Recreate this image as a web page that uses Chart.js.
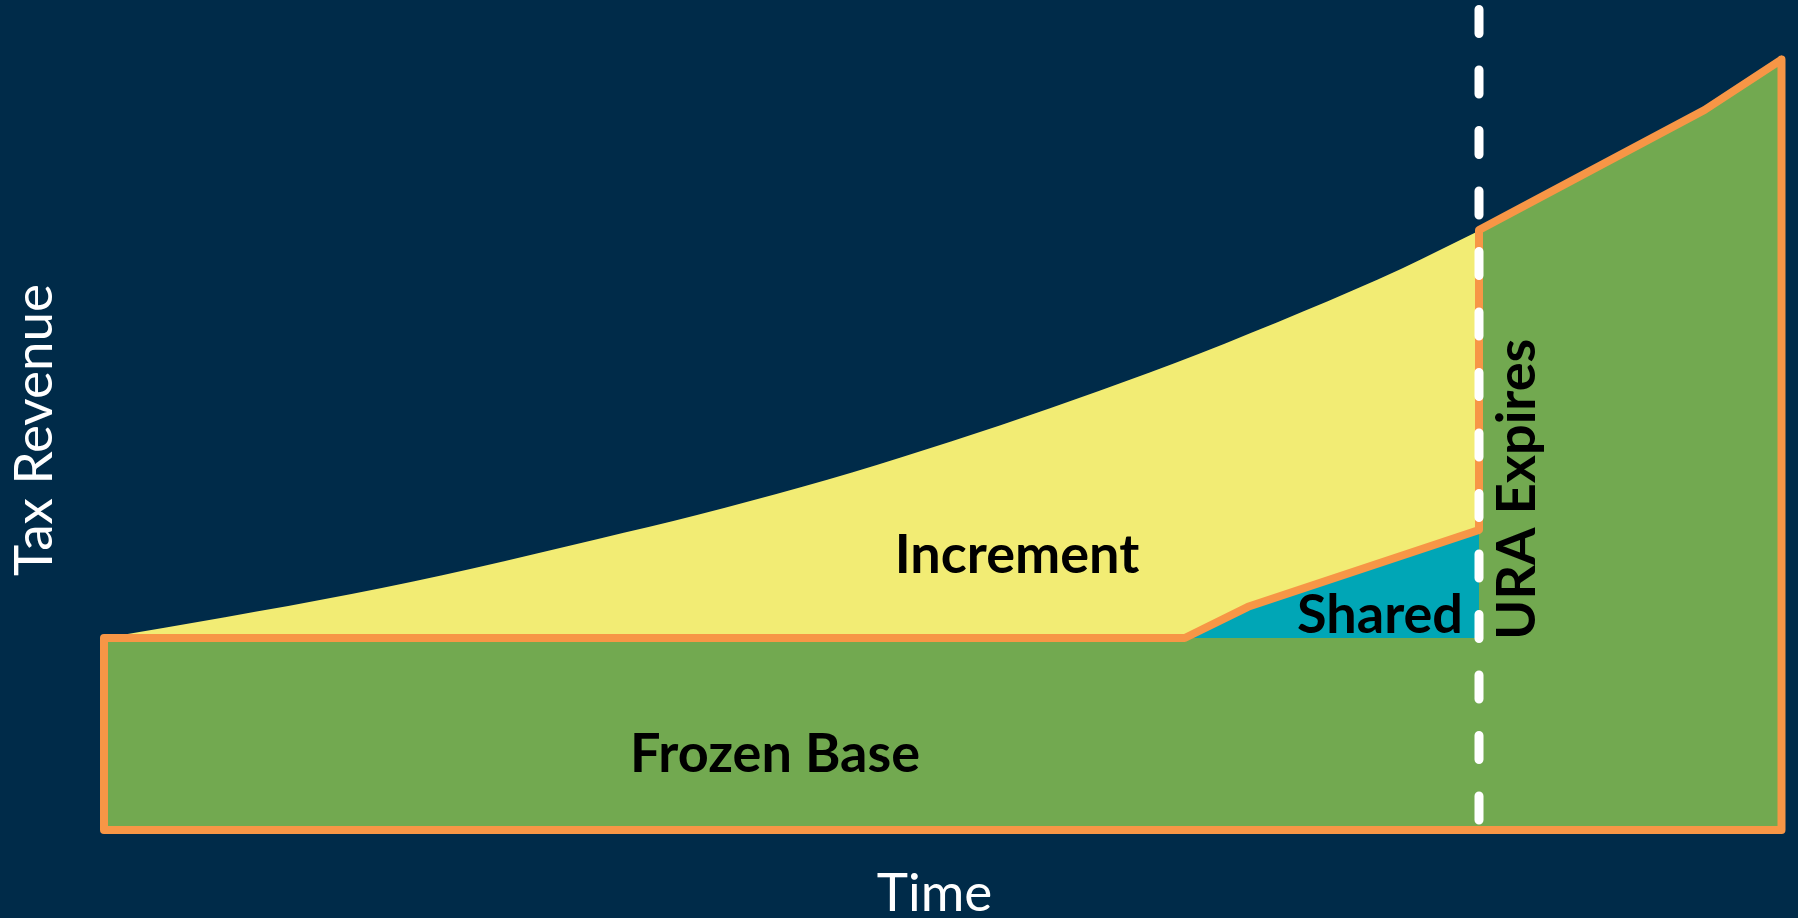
<!DOCTYPE html>
<html>
<head>
<meta charset="utf-8">
<script src="https://cdn.jsdelivr.net/npm/chart.js@4/dist/chart.umd.min.js"></script>
<style>
  html, body { margin: 0; padding: 0; background: #002b49; }
  #wrap { width: 1798px; height: 918px; }
</style>
</head>
<body>
<div id="wrap"><canvas id="tifChart"></canvas></div>
<script>
// time in years, revenue in arbitrary units
const incrementYears = [0, 2.2, 4.5, 6.7, 9, 10.8, 12.7, 14.5, 16.3, 18.1, 19.9, 21.8, 23.6, 25];
const incrementTop   = [24.0, 26.6, 29.5, 32.7, 36.4, 39.4, 42.9, 46.6, 50.6, 54.9, 59.5, 64.8, 70.2, 74.9];

const baseYears = [0, 25];
const frozenBase = 24.0;

const sharedYears = [19.65, 20.8, 25];
const sharedTop   = [24.0, 27.9, 37.5];

const afterYears = [25, 29.1, 30.5];
const afterTop   = [75.0, 90.0, 96.3];

const expiryYear = 25;

const yellow = '#f2ec74';
const green = '#72a950';
const teal = '#00a6b6';
const orange = '#f79646';

// helpers to turn the arrays into {x,y} points
const pts = (xs, ys) => xs.map((x, i) => ({x: x, y: ys[i]}));

const incrementPts = pts(incrementYears, incrementTop);
const sharedPts = pts(sharedYears, sharedTop);
const greenPts = baseYears.map(x => ({x: x, y: frozenBase})).concat(pts(afterYears, afterTop));
const lastYear = afterYears[afterYears.length - 1];

// outline of what the taxing districts get: base + shared, then everything after expiry
const outlinePts = [{x: baseYears[0], y: 0}, {x: baseYears[0], y: frozenBase}]
  .concat(sharedPts)
  .concat(pts(afterYears, afterTop))
  .concat([{x: lastYear, y: 0}, {x: baseYears[0], y: 0}]);

const regionLabels = [
  {text: 'Increment', x: 16.6, y: 32.1},
  {text: 'Frozen Base', x: 12.2, y: 7.25},
  {text: 'Shared', x: 23.2, y: 24.6},
  {text: 'URA Expires', x: 26.02, y: 42.6, rotate: true}
];

const labelPlugin = {
  id: 'regionLabels',
  afterDatasetsDraw(chart) {
    const ctx = chart.ctx;
    const xs = chart.scales.x, ys = chart.scales.y;
    ctx.save();
    ctx.fillStyle = '#000';
    ctx.font = 'bold 54px Lato';
    ctx.textAlign = 'center';
    ctx.textBaseline = 'alphabetic';
    regionLabels.forEach(l => {
      ctx.save();
      ctx.translate(xs.getPixelForValue(l.x), ys.getPixelForValue(l.y));
      if (l.rotate) ctx.rotate(-Math.PI / 2);
      ctx.fillText(l.text, 0, 0);
      ctx.restore();
    });
    ctx.restore();
  }
};

function draw() {
  new Chart(document.getElementById('tifChart'), {
    type: 'line',
    data: {
      datasets: [
        {
          label: 'URA Expires',
          data: [{x: expiryYear, y: 104}, {x: expiryYear, y: 0}],
          borderColor: '#ffffff',
          borderWidth: 9,
          borderDash: [24, 36.5],
          borderDashOffset: 49,
          borderCapStyle: 'round',
          pointRadius: 0,
          fill: false,
          clip: false
        },
        {
          label: 'Taxing districts',
          data: outlinePts,
          borderColor: orange,
          borderWidth: 8,
          borderJoinStyle: 'round',
          borderCapStyle: 'round',
          pointRadius: 0,
          fill: false,
          clip: 12
        },
        {
          label: 'Shared',
          data: sharedPts,
          borderColor: 'rgba(0,0,0,0)',
          borderWidth: 0,
          backgroundColor: teal,
          pointRadius: 0,
          fill: {value: frozenBase}
        },
        {
          label: 'Frozen Base',
          data: greenPts,
          borderColor: 'rgba(0,0,0,0)',
          borderWidth: 0,
          backgroundColor: green,
          pointRadius: 0,
          fill: 'origin'
        },
        {
          label: 'Increment',
          data: incrementPts,
          borderColor: 'rgba(0,0,0,0)',
          borderWidth: 0,
          backgroundColor: yellow,
          pointRadius: 0,
          cubicInterpolationMode: 'monotone',
          fill: 'origin'
        }
      ]
    },
    options: {
      responsive: true,
      maintainAspectRatio: false,
      animation: false,
      events: [],
      layout: { padding: { top: 30, left: 0, right: 0, bottom: 0 } },
      plugins: {
        legend: { display: false },
        tooltip: { enabled: false }
      },
      scales: {
        x: {
          type: 'linear',
          min: -0.6,
          max: 30.8,
          grid: { display: false },
          border: { display: false },
          ticks: { display: false },
          title: {
            display: true,
            text: 'Time',
            color: '#ffffff',
            font: { family: 'Lato', size: 53, lineHeight: 0.9 },
            padding: { top: 0, bottom: 0 }
          },
          afterFit(scale) { scale.height = 88; }
        },
        y: {
          type: 'linear',
          min: 0,
          max: 100,
          grid: { display: false },
          border: { display: false },
          ticks: { display: false },
          title: {
            display: true,
            text: 'Tax Revenue',
            color: '#ffffff',
            font: { family: 'Lato', size: 53, lineHeight: 1.2 },
            padding: { top: 3, bottom: 0 }
          },
          afterFit(scale) { scale.width = 71; }
        }
      }
    },
    plugins: [labelPlugin]
  });
}

Promise.all([
  document.fonts.load('53px Lato'),
  document.fonts.load('bold 54px Lato')
]).then(draw, draw);
</script>
</body>
</html>
